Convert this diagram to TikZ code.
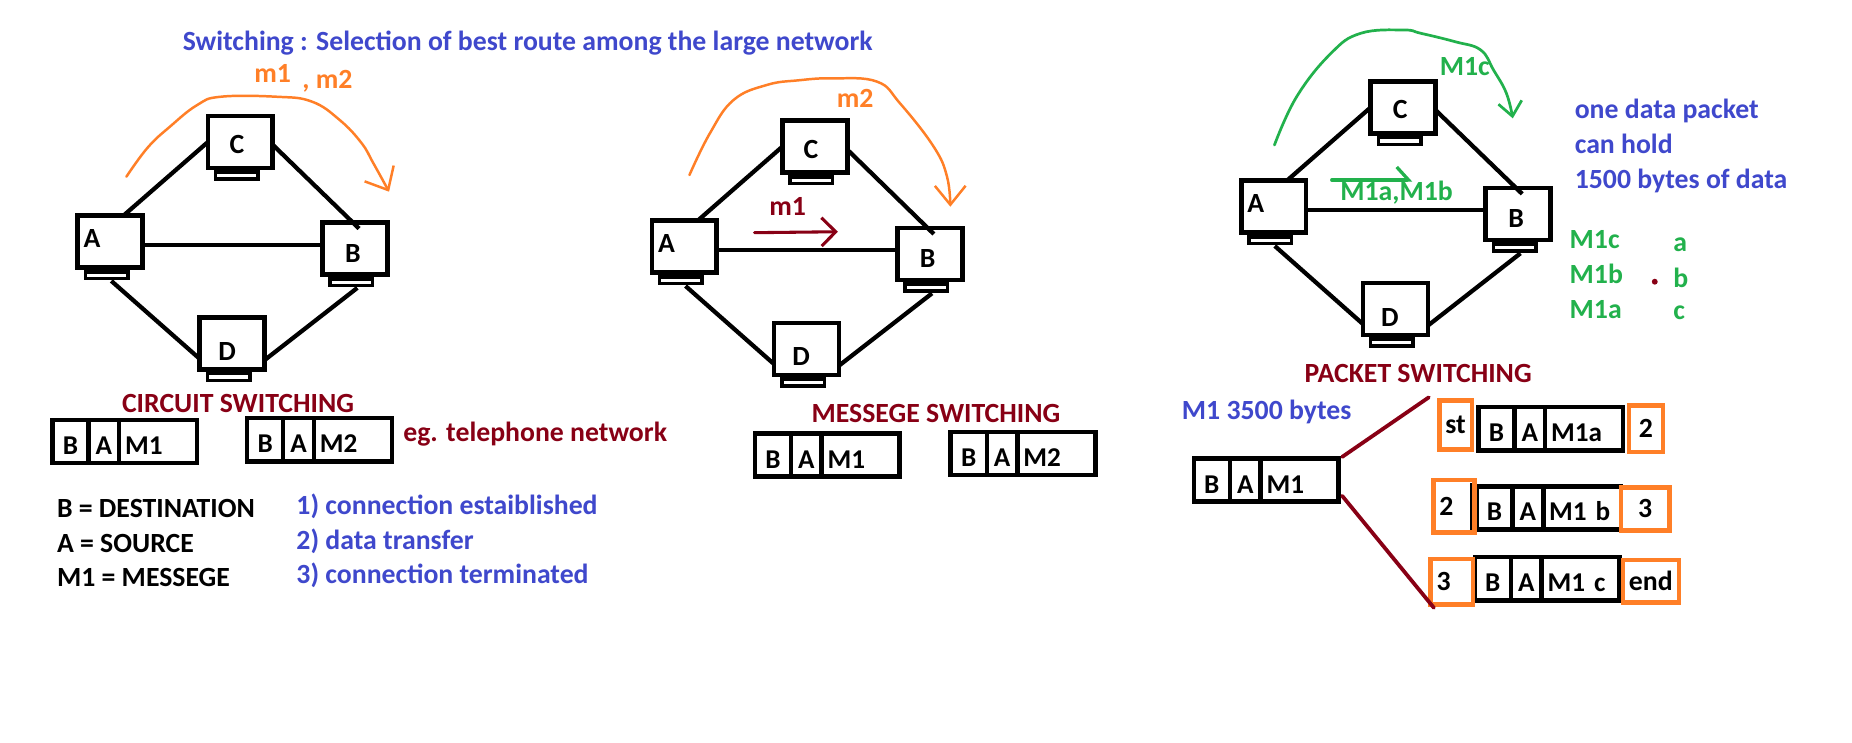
\documentclass[tikz,border=0pt]{standalone}
\usepackage{fontspec}
\setmainfont{Carlito}
\usetikzlibrary{arrows.meta}
\definecolor{pblue}{RGB}{63,72,204}
\definecolor{pred}{RGB}{136,0,21}
\definecolor{porange}{RGB}{255,127,39}
\definecolor{pgreen}{RGB}{34,177,76}
\newcommand\pfont{\fontsize{23.5}{27}\selectfont\bfseries}
\newcommand\bamrow[4]{%
  \node[cell, minimum width=30.6pt, anchor=west] (#1b) at (#2,#3) {B};
  \node[cell, minimum width=26pt, anchor=west] (#1a) at (#1b.east) {A};
  \node[cell, mcell, anchor=west] (#1m) at (#1a.east) {#4};
}
\begin{document}
\begin{tikzpicture}[x=1pt,y=-1pt,
  txt/.style={inner sep=0pt, outer sep=0pt, text height=15pt, text depth=0pt, font=\pfont},
  monitor/.style={draw, line width=4pt, minimum width=55pt, minimum height=44pt, inner sep=0pt, outer sep=0pt},
  stand/.style={draw, line width=3pt, minimum width=36pt, minimum height=5.75pt, inner sep=0pt, outer sep=0pt, anchor=north},
  link/.style={line width=3.6pt},
  cell/.style={draw, line width=3.8pt, minimum height=36.5pt, inner ysep=0pt, inner xsep=0pt, outer sep=0pt, text height=22pt, text depth=0pt, font=\fontsize{23}{26}\selectfont\bfseries},
  mcell/.style={minimum width=66pt, text width=56pt, align=left, inner xsep=5pt},
  obox/.style={draw=porange, line width=3.8pt, inner sep=0pt, outer sep=0pt, text height=15pt, text depth=0pt, font=\pfont},
  oline/.style={draw=porange, line width=2.1pt, line cap=round, line join=round},
  gline/.style={draw=pgreen, line width=2.3pt, line cap=round, line join=round},
  cut/.style={draw=pred, line width=3.2pt, line cap=round}
]
\fill[white] (0,0) rectangle (1568,629);
\useasboundingbox (0,0) rectangle (1568,629);

% ---------- title ----------
\node[txt, text=pblue, anchor=west] (title) at (154.8,35.3) {Switching : Selection of best route among the large network};

% ---------- circuit switching network ----------
\node[monitor] (cC) at (203.5,120.25) {};
\node[monitor] (cA) at (93.25,204.6) {};
\node[monitor] (cB) at (300.5,210.5) {};
\node[monitor] (cD) at (196.5,290.9) {};
\foreach \n in {cC,cA,cB,cD} {\node[stand] (s\n) at ([shift={(-3,3.5)}]\n.south) {};}
\node[txt] (cCl) at ([shift={(-2.8,2.5)}]cC.center) {C};
\node[txt] (cAl) at ([shift={(-15.3,-2.8)}]cA.center) {A};
\node[txt] (cBl) at ([shift={(-1.8,4)}]cB.center) {B};
\node[txt] (cDl) at ([shift={(-4.2,6.9)}]cD.center) {D};
\draw[link] (cA.63) -- (cC.west);
\draw[link] (cC.-5) -- ([shift={(3.5,5)}]cB.north);
\coordinate (cAB) at ([shift={(0,3)}]cA.east);
\draw[link] (cAB) -- (cAB -| cB.west);
\draw[link] ([shift={(4,2)}]scA.south) -- (cD.205);
\draw[link] (cD.-27) -- ([shift={(5,2)}]scB.south);
\coordinate (o1s) at (107,149.6);
\coordinate (o1e) at (329.4,162.3);
\draw[oline, -{Straight Barb[length=16pt,width=28pt]}] plot[smooth, tension=0.7] coordinates {(o1s) (125,125) (143.8,107.3) (167,88.9) (187,81.9) (234,81.9) (264,86) (287.6,101.6) (306,121) (316,138) (o1e)};
\node[txt, text=porange] (cm1) at (230.8,62.7) {m1};
\node[txt, text=porange, anchor=west] (cm2) at (256,67.2) {, m2};
\node[txt, text=pred] (cst) at (201.5,341.5) {CIRCUIT SWITCHING};
\bamrow{cbo}{44.3}{373.75}{M1}
\bamrow{cbt}{209.2}{372.35}{M2}
\node[txt, text=pred, anchor=west] (eg) at (341.5,366.4) {eg. telephone network};
\node[txt, anchor=west] (k1) at (48.3,430.5) {B = DESTINATION};
\node[txt, anchor=west] (k2) at (48.3,460.1) {A = SOURCE};
\node[txt, anchor=west] (k3) at (48.3,488.9) {M1 = MESSEGE};
\node[txt, text=pblue, anchor=west] (p1) at (251,428.5) {1) connection estaiblished};
\node[txt, text=pblue, anchor=west] (p2) at (251,458.1) {2) data transfer};
\node[txt, text=pblue, anchor=west] (p3) at (251,486.9) {3) connection terminated};

% ---------- message switching network ----------
\node[monitor] (mC) at (689.8,124.2) {};
\node[monitor] (mA) at (579.4,208.9) {};
\node[monitor] (mB) at (787.1,215.1) {};
\node[monitor] (mD) at (682.9,295.5) {};
\foreach \n in {mC,mA,mB,mD} {\node[stand] (s\n) at ([shift={(-3,3.5)}]\n.south) {};}
\node[txt] (mCl) at ([shift={(-3.3,2.8)}]mC.center) {C};
\node[txt] (mAl) at ([shift={(-15,-3)}]mA.center) {A};
\node[txt] (mBl) at ([shift={(-1.7,3.6)}]mB.center) {B};
\node[txt] (mDl) at ([shift={(-4.6,6.5)}]mD.center) {D};
\draw[link] (mA.63) -- (mC.west);
\draw[link] (mC.-5) -- ([shift={(3.5,5)}]mB.north);
\coordinate (mAB) at ([shift={(0,3)}]mA.east);
\draw[link] (mAB) -- (mAB -| mB.west);
\draw[link] ([shift={(4,2)}]smA.south) -- (mD.205);
\draw[link] (mD.-27) -- ([shift={(5,2)}]smB.south);
\coordinate (m1s) at (638.8,197);
\coordinate (m1e) at (709.4,196.2);
\draw[pred, line width=2.6pt, line cap=round, -{Straight Barb[length=12pt,width=24pt]}] (m1s) -- (m1e);
\node[txt, text=pred] (mm1) at (666.8,175) {m1};
\coordinate (o2s) at (583.7,148.2);
\coordinate (o2e) at (804.6,175);
\draw[oline, -{Straight Barb[length=16pt,width=26pt]}] plot[smooth, tension=0.7] coordinates {(o2s) (601,112.9) (621,84.7) (649,72) (676,68) (705.7,66.3) (742.5,69.1) (762,87.5) (790.5,124.2) (801.8,149.6) (o2e)};
\node[txt, text=porange] (mm2) at (724,83.3) {m2};
\node[txt, text=pred] (mst) at (792.4,350) {MESSEGE SWITCHING};
\bamrow{mbo}{639.1}{385.25}{M1}
\bamrow{mbt}{804.9}{383.8}{M2}

% ---------- packet switching network ----------
\node[monitor] (pC) at (1188,90.9) {};
\node[monitor] (pA) at (1078.3,175) {};
\node[monitor] (pB) at (1285.3,181.2) {};
\node[monitor] (pD) at (1181.5,261.6) {};
\foreach \n in {pC,pA,pB,pD} {\node[stand] (s\n) at ([shift={(-3,3.5)}]\n.south) {};}
\node[txt] (pCl) at ([shift={(-2.5,2.2)}]pC.center) {C};
\node[txt] (pAl) at ([shift={(-15,-2.8)}]pA.center) {A};
\node[txt] (pBl) at ([shift={(-1.6,3.7)}]pB.center) {B};
\node[txt] (pDl) at ([shift={(-4.7,7.1)}]pD.center) {D};
\draw[link] (pA.63) -- (pC.west);
\draw[link] (pC.-5) -- ([shift={(3.5,5)}]pB.north);
\coordinate (pAB) at ([shift={(0,3)}]pA.east);
\draw[link] (pAB) -- (pAB -| pB.west);
\draw[link] ([shift={(4,2)}]spA.south) -- (pD.205);
\draw[link] (pD.-27) -- ([shift={(5,2)}]spB.south);
\coordinate (g1s) at (1079,122.8);
\coordinate (g1e) at (1280.8,100.2);
\draw[gline, -{Straight Barb[length=12pt,width=20pt]}] plot[smooth, tension=0.7] coordinates {(g1s) (1097.8,81.9) (1126.8,45.2) (1152,28.2) (1188.4,25.4) (1203,28.2) (1231.9,35.3) (1253.6,42.3) (1264.5,59.3) (1275.4,79) (g1e)};
\node[txt, text=pgreen, anchor=west] (gm1c) at (1219,56.4) {M1c};
\coordinate (g2s) at (1127.5,152.4);
\coordinate (g2e) at (1195.7,152.4);
\draw[gline, line width=2.8pt, -{Straight Barb[harpoon,length=10pt,width=22pt]}] (g2s) -- (g2e);
\node[txt, text=pgreen, anchor=west] (gab) at (1134.8,162.3) {M1a,M1b};
\node[txt, text=pblue, anchor=west] (b1) at (1333.3,93.1) {one data packet};
\node[txt, text=pblue, anchor=west] (b2) at (1333.3,122.8) {can hold};
\node[txt, text=pblue, anchor=west] (b3) at (1333.3,152.4) {1500 bytes of data};
\node[txt, text=pgreen, anchor=west] (l1) at (1329,202.6) {M1c};
\node[txt, text=pgreen, anchor=west] (l2) at (1329,232.9) {M1b};
\node[txt, text=pgreen, anchor=west] (l3) at (1329,262.5) {M1a};
\node[txt, text=pgreen, anchor=west] (la) at (1416.7,205.5) {a};
\node[txt, text=pgreen, anchor=west] (lb) at (1416.7,235.7) {b};
\node[txt, text=pgreen, anchor=west] (lc) at (1416.7,263.3) {c};
\fill[pred] (1401,238.5) circle (2.5);
\node[txt, text=pred] (pst) at (1200.7,316) {PACKET SWITCHING};
\node[txt, text=pblue, anchor=west] (mb) at (1000.7,347.5) {M1 3500 bytes};
\bamrow{pbo}{1010.7}{406.5}{M1}
% packets
\bamrow{rone}{1251.6}{363}{M1a}
\bamrow{rtwo}{1250}{430}{M1 b}
\bamrow{rthr}{1248.6}{490}{M1 c}
\draw[line width=2.5pt] (1245.4,409) -- (1245.4,450);
\node[obox, minimum width=27.4pt, minimum height=41.7pt] (r1o) at (1232.4,359.75) {st};
\node[obox, minimum width=28.8pt, minimum height=39.7pt] (r1e) at (1393.5,363) {2};
\node[obox, minimum width=34.6pt, minimum height=44.4pt, text width=24.6pt, align=left, inner xsep=5pt] (r2o) at (1231,428.8) {2};
\node[obox, minimum width=40.8pt, minimum height=36.6pt] (r2e) at (1392.9,431) {3};
\node[obox, minimum width=36pt, minimum height=38.3pt, text width=26pt, align=left, inner xsep=5pt] (r3o) at (1229.3,492.45) {3};
\node[obox, minimum width=47.3pt, minimum height=36.1pt] (r3e) at (1397.65,492.25) {end};
\draw[cut] ([shift={(3,-1.4)}]pbom.north east) -- ([shift={(-9,-2.5)}]r1o.north west);
\draw[cut] ([shift={(3,-5)}]pbom.south east) -- ([shift={(2.7,3)}]r3o.south west);
\end{tikzpicture}
\end{document}
